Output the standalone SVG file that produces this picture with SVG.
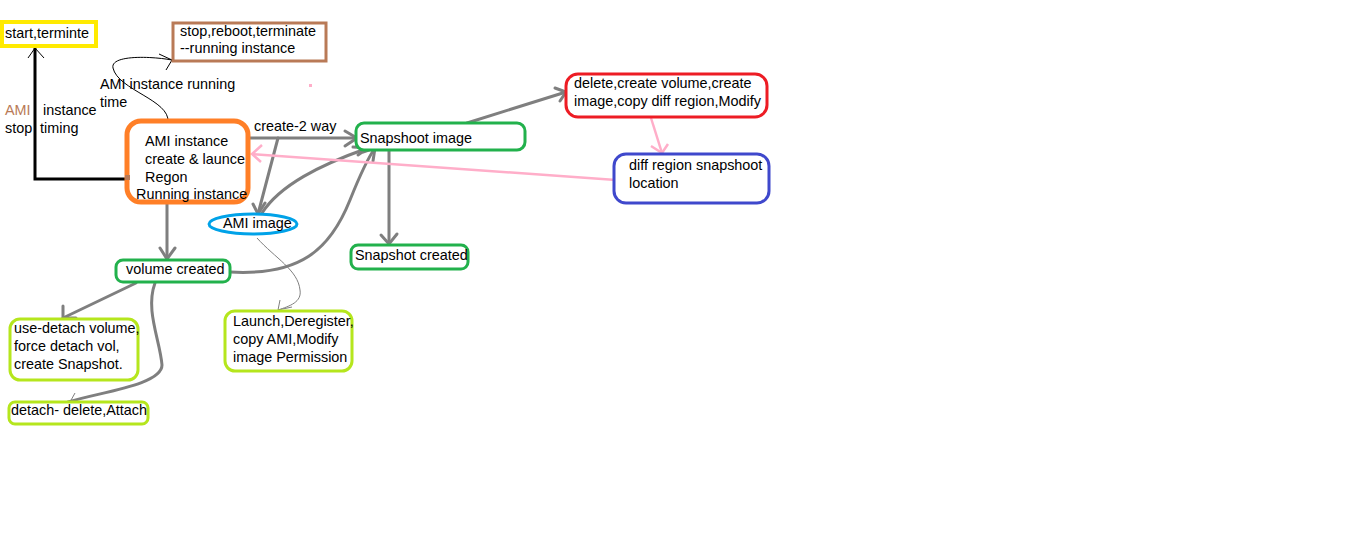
<svg xmlns="http://www.w3.org/2000/svg" width="1360" height="543" viewBox="0 0 1360 543">
<style>
text{font-family:"Liberation Sans",Arial,sans-serif;font-size:14.4px;fill:#000}
.box{fill:#fff}
.g{fill:none;stroke:#7f7f7f;stroke-width:3;stroke-linecap:round}
.thin{fill:none;stroke:#7f7f7f;stroke-width:1}
.pk{fill:none;stroke:#ffaec9;stroke-width:2.5}
.blk{fill:none;stroke:#000;stroke-width:3}
</style>
<rect width="1360" height="543" fill="#fff"/>
<g id="connectors">
<path class="blk" d="M127,179 H35 V48"/>
<path fill="none" stroke="#000" stroke-width="1" d="M28,58 L35,48 L44,58"/>
<path fill="none" stroke="#000" stroke-width="1" d="M168,122 C170,100 118,90 113,68 C110,55 150,56 172,60"/>
<path fill="none" stroke="#000" stroke-width="1" d="M159,54 L172,60 L166,70"/>
<path class="g" d="M250,138 H356"/>
<path class="g" d="M345,131 L357,138 L345,146"/>
<path class="g" d="M278,138 L258,214"/>
<path class="g" d="M253,204 L258,214 L265,203"/>
<path class="g" d="M262,213 C280,185 320,165 368,148"/>
<path class="g" d="M353,147 L368,148 L358,155"/>
<path class="g" d="M230,272 C300,276 330,250 350,200 C360,175 368,158 375,148"/>
<path class="g" d="M363,152 L375,148 L373,161"/>
<path class="g" d="M467,123 L566,92"/>
<path class="g" d="M555,88 L566,92 L560,101"/>
<path class="g" d="M389,150 V244"/>
<path class="g" d="M381,235 L389,244 L397,234"/>
<path class="pk" d="M651,118 L662,153"/>
<path class="pk" d="M651,146 L662,153 L668,144"/>
<path class="pk" d="M616,180 L252,154"/>
<path class="pk" d="M262,145 L252,154 L261,162"/>
<path class="thin" d="M257,238 C275,258 298,270 300,290 C302,302 290,306 278,310"/>
<path class="thin" d="M280,300 L278,310 L292,307"/>
<path class="g" d="M167,203 V259"/>
<path class="g" d="M160,248 L167,259 L175,248"/>
<path class="g" d="M136,283 L63,318"/>
<path class="g" d="M63,306 L63,318 L76,318"/>
<path class="g" d="M155,283 C145,310 160,340 162,365 C162,385 100,392 68,402"/>
<path fill="none" stroke="#7f7f7f" stroke-width="1" d="M75,393 L70,402 L85,402"/>
</g>
<g id="start">
<rect class="box" x="2" y="22" width="94" height="24" stroke="#ffea00" stroke-width="4"/>
<text x="5" y="38">start,terminte</text>
</g>
<g id="stop">
<rect class="box" x="173" y="23" width="153" height="38" stroke="#b97a57" stroke-width="3"/>
<text x="180" y="36">stop,reboot,terminate</text>
<text x="180" y="53">--running instance</text>
</g>
<g id="labels">
<text x="5" y="115" fill="#b97a57" style="fill:#b97a57">AMI</text>
<text x="43" y="115">instance</text>
<text x="5" y="133">stop</text>
<text x="40" y="133">timing</text>
<text x="100" y="89">AMI instance running</text>
<text x="100" y="107">time</text>
<text x="254" y="131">create-2 way</text>
<rect x="309" y="84" width="3" height="3" fill="#ffaec9"/>
</g>
<g id="ami-instance">
<rect class="box" x="127" y="121" width="121" height="81" rx="14" stroke="#ff7f27" stroke-width="5"/>
<rect x="125" y="175" width="5" height="5" fill="#b97a57"/>
<text x="145" y="146">AMI instance</text>
<text x="145" y="164">create &amp; launce</text>
<text x="145" y="182">Regon</text>
<text x="136" y="199">Running instance</text>
</g>
<g id="snapshoot-image">
<rect class="box" x="356" y="123" width="169" height="27" rx="8" stroke="#22b14c" stroke-width="3"/>
<text x="360" y="143">Snapshoot image</text>
</g>
<g id="red">
<rect class="box" x="566" y="74" width="201" height="43" rx="12" stroke="#ed1c24" stroke-width="3"/>
<text x="574" y="88">delete,create volume,create</text>
<text x="574" y="106">image,copy diff region,Modify</text>
</g>
<g id="diff">
<rect class="box" x="614" y="154" width="155" height="49" rx="12" stroke="#3f48cc" stroke-width="3"/>
<text x="629" y="170">diff region snapshoot</text>
<text x="629" y="188">location</text>
</g>
<g id="snapshot-created">
<rect class="box" x="351" y="245" width="117" height="24" rx="7" stroke="#22b14c" stroke-width="3"/>
<text x="355" y="260">Snapshot created</text>
</g>
<g id="ami-image">
<ellipse class="box" cx="253" cy="224" rx="44" ry="10" stroke="#00a2e8" stroke-width="3"/>
<text x="223" y="228">AMI image</text>
</g>
<g id="launch">
<rect class="box" x="225" y="311" width="127" height="60" rx="10" stroke="#b5e61d" stroke-width="3"/>
<text x="233" y="326">Launch,Deregister,</text>
<text x="233" y="344">copy AMI,Modify</text>
<text x="233" y="362">image Permission</text>
</g>
<g id="volume">
<rect class="box" x="116" y="260" width="114" height="22" rx="7" stroke="#22b14c" stroke-width="3"/>
<text x="126" y="274">volume created</text>
</g>
<g id="use-detach">
<rect class="box" x="10" y="319" width="128" height="61" rx="10" stroke="#b5e61d" stroke-width="3"/>
<text x="14" y="333">use-detach volume,</text>
<text x="14" y="351">force detach vol,</text>
<text x="14" y="369">create Snapshot.</text>
</g>
<g id="detach">
<rect class="box" x="9" y="402" width="139" height="22" rx="6" stroke="#b5e61d" stroke-width="3"/>
<text x="11" y="415">detach- delete,Attach</text>
</g>
</svg>
